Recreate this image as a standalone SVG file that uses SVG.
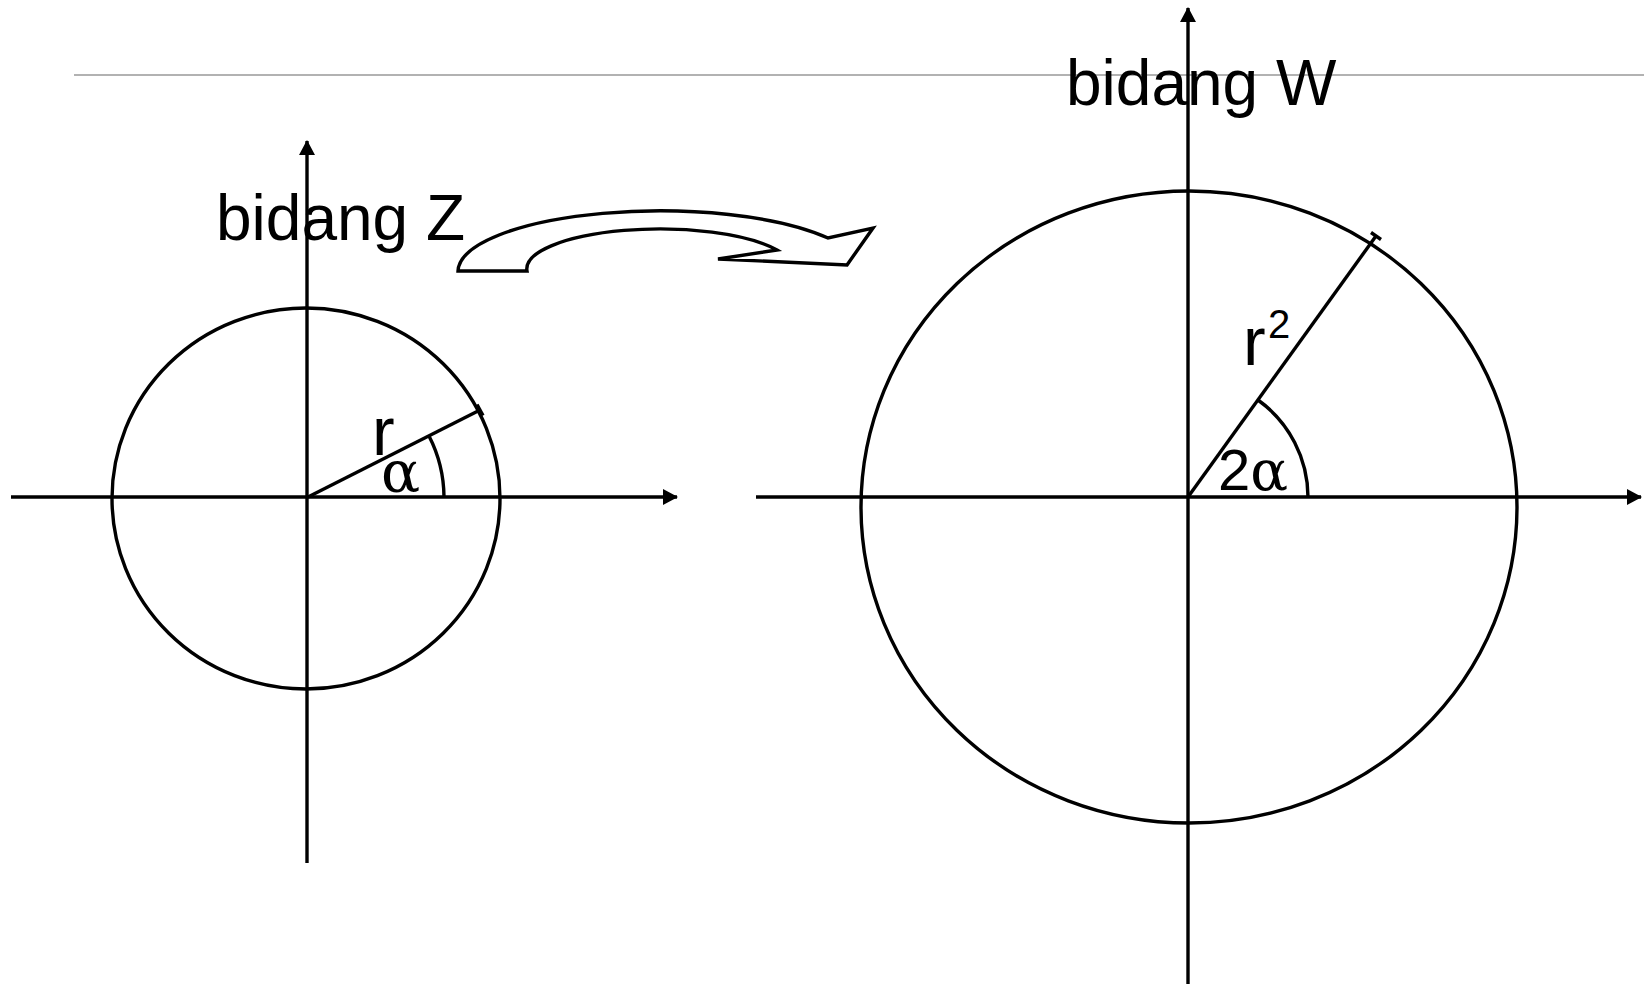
<svg xmlns="http://www.w3.org/2000/svg" width="1650" height="984" viewBox="0 0 1650 984">
<style>
.ln{stroke:#000;stroke-width:3.4;fill:none}
.sh{stroke:#000;stroke-width:3.4;fill:#fff;stroke-linejoin:miter}
.t{font-family:"Liberation Sans",Arial,sans-serif;fill:#000}
.g{font-family:"DejaVu Serif","Liberation Serif",serif;fill:#000}
</style>
<defs>
<marker id="ah" markerWidth="15" markerHeight="16" refX="14" refY="8" orient="auto" markerUnits="userSpaceOnUse">
<path d="M0,0 L15,8 L0,16 Z" fill="#000"/>
</marker>
</defs>
<rect width="1650" height="984" fill="#fff"/>
<line x1="74" y1="75" x2="1644" y2="75" stroke="#999" stroke-width="1.5"/>
<g id="connectors">
<line class="ln" x1="11" y1="497" x2="677" y2="497" marker-end="url(#ah)"/>
<line class="ln" x1="307" y1="863" x2="307" y2="141" marker-end="url(#ah)"/>
<line class="ln" x1="756" y1="497" x2="1641" y2="497" marker-end="url(#ah)"/>
<line class="ln" x1="1188" y1="984" x2="1188" y2="8" marker-end="url(#ah)"/>
</g>
<g id="circleZ">
<ellipse class="ln" cx="306" cy="498.5" rx="194" ry="190.5"/>
<line class="ln" x1="308" y1="497" x2="480" y2="410"/>
<line class="ln" x1="477" y1="404.5" x2="483" y2="415.5"/>
<path class="ln" d="M429,436 A136,136 0 0 1 444,497"/>
<text class="t" x="372" y="455" font-size="68">r</text>
<text class="g" x="381" y="492" font-size="58">α</text>
</g>
<g id="circleW">
<ellipse class="ln" cx="1189" cy="507" rx="328" ry="316"/>
<line class="ln" x1="1188" y1="497" x2="1376" y2="236"/>
<line class="ln" x1="1371" y1="232.5" x2="1381" y2="239.5"/>
<path class="ln" d="M1258,400 A120,120 0 0 1 1308,497"/>
<text class="t" x="1243" y="365" font-size="68">r</text>
<text class="t" x="1268" y="338" font-size="40">2</text>
<text x="1218" y="490"><tspan class="t" font-size="58">2</tspan><tspan class="g" font-size="56">α</tspan></text>
</g>
<g id="labelZ"><text class="t" x="216" y="240" font-size="64">bidang Z</text></g>
<g id="labelW"><text class="t" x="1066" y="105" font-size="64">bidang W</text></g>
<g id="curvedArrow">
<path class="sh" d="M458,271 A202,61 0 0 1 828,238 L873,228 L847,265 L718,259 L777,250 A133,40 0 0 0 527,271 Z"/>
</g>
</svg>
